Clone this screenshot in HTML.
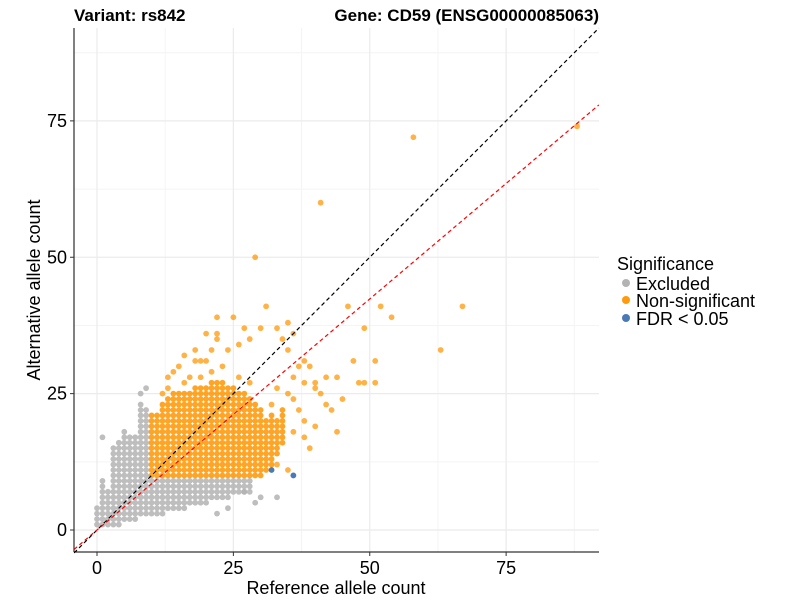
<!DOCTYPE html>
<html><head><meta charset="utf-8"><style>
body{margin:0;background:#fff;font-family:"Liberation Sans",Arial,sans-serif}
svg text{font-family:"Liberation Sans",Arial,sans-serif}
</style></head><body>
<svg id="chart" width="800" height="600" xmlns="http://www.w3.org/2000/svg">
<g id="grid"></g>
<g id="lines"></g>
<g id="pts"></g>
<g id="axes"></g>
<text x="74" y="21" font-size="17" font-weight="bold">Variant: rs842</text>
<text x="599" y="21" font-size="17" font-weight="bold" text-anchor="end">Gene: CD59 (ENSG00000085063)</text>
<text x="336" y="594" font-size="18" text-anchor="middle">Reference allele count</text>
<text transform="translate(40,290) rotate(-90)" font-size="18" text-anchor="middle">Alternative allele count</text>
<g>
<text x="617" y="270" font-size="18">Significance</text>
<circle cx="626" cy="283" r="4" fill="#b3b3b3"/>
<text x="636" y="290" font-size="18">Excluded</text>
<circle cx="626" cy="300" r="4" fill="#ff9a0a"/>
<text x="636" y="307" font-size="18">Non-significant</text>
<circle cx="626" cy="318" r="4" fill="#4a7ab5"/>
<text x="636" y="325" font-size="18">FDR &lt; 0.05</text>
</g>
</svg>
<script>
const ticks=[0,25,50,75];
const tickLabels=["0","25","50","75"];
const minorTicks=[12.5,37.5,62.5,87.5];
// orange dense columns: x, ymin, ymax
const orangeColX=[10,11,12,13,14,15,16,17,18,19,20,21,22,23,24,25,26,27,28,29,30,31,32,33,34];
const orangeColMin=[10,10,10,10,10,10,10,10,10,10,10,10,10,10,10,10,10,10,10,10,10,11,12,14,16];
const orangeColMax=[21,21,23,24,25,25,25,25,26,26,26,27,27,27,26,26,25,25,24,23,22,20,21,20,22];
const orangeX=[13,14,15,16,17,18,18,19,20,20,21,22,22,22,25,27,26,28,29,31,30,24,33,35,36,34,35,37,38,39,36,38,40,41,42,40,42,44,46,47,49,52,54,51,51,49,48,63,67,58,41,88,32,33,35,36,37,38,36,38,39,40,35,33,43,45,44,12,16,19,21,23,26,28,13];
const orangeY=[28,29,30,32,28,33,31,31,31,36,33,36,39,35,39,37,34,35,50,41,37,33,37,38,36,35,33,30,31,30,28,27,26,25,23,27,28,28,41,31,37,41,39,31,27,27,27,33,41,72,60,74,23,26,25,24,22,20,18,17,15,19,11,12,22,24,18,25,27,28,29,30,28,27,26];
const greyColX=[0,1,2,3,4,5,6,7,8,9,10,11,12,13,14,15,16,17,18,19,20,21,22,23,24,25,26,27,28];
const greyColMin=[1,1,1,1,1,2,2,2,3,3,3,3,3,4,4,4,4,5,5,5,5,6,6,6,6,7,7,7,7];
const greyColMax=[4,9,7,15,16,18,17,17,23,22,9,9,9,9,9,9,9,9,9,9,9,9,9,9,9,9,9,9,9];
const greyX=[1,8,9,29,33,24,30,27,22];
const greyY=[17,25,26,5,6,4,6,7,3];
const blueX=[32,36];
const blueY=[11,10];
const X0=97,Y0=530,K=5.455;
const sx=v=>X0+v*K, sy=v=>Y0-v*K;
const NS="http://www.w3.org/2000/svg";
function mk(tag,attrs,parent){const e=document.createElementNS(NS,tag);for(const k in attrs)e.setAttribute(k,attrs[k]);parent.appendChild(e);return e;}
const grid=document.getElementById('grid');
minorTicks.forEach(t=>{
 let a=mk('line',{x1:sx(t),x2:sx(t),y1:28,y2:552,stroke:'#f4f4f4','stroke-width':1},grid);
 
 let b=mk('line',{x1:74,x2:599,y1:sy(t),y2:sy(t),stroke:'#f4f4f4','stroke-width':1},grid);
 
});
ticks.forEach(t=>{
 let a=mk('line',{x1:sx(t),x2:sx(t),y1:28,y2:552,stroke:'#ebebeb','stroke-width':1.2},grid);
 
 let b=mk('line',{x1:74,x2:599,y1:sy(t),y2:sy(t),stroke:'#ebebeb','stroke-width':1.2},grid);
 
});
const pts=document.getElementById('pts');
function dot(x,y,fill,op,name){const c=mk('circle',{cx:sx(x),cy:sy(y),r:2.9,fill:fill,'fill-opacity':op},pts);
 
 }
greyColX.forEach((x,i)=>{for(let y=greyColMin[i];y<=greyColMax[i];y++)dot(x,y,'#b3b3b3',0.85,'point-excluded');});
greyX.forEach((x,i)=>dot(x,greyY[i],'#b3b3b3',0.85,'point-excluded'));
orangeColX.forEach((x,i)=>{for(let y=orangeColMin[i];y<=orangeColMax[i];y++)dot(x,y,'#ff9500',0.85,'point-nonsignificant');});
orangeX.forEach((x,i)=>dot(x,orangeY[i],'#ff9a0a',0.75,'point-nonsignificant'));
blueX.forEach((x,i)=>dot(x,blueY[i],'#4a7ab5',1,'point-fdr'));
const lines=document.getElementById('lines');
const slopeRed=0.847;
let l1=mk('line',{x1:sx(-4.2),y1:sy(-4.2),x2:sx(92),y2:sy(92),stroke:'#000','stroke-width':1.2,'stroke-dasharray':'4,3'},lines);

let l2=mk('line',{x1:sx(-4.2),y1:sy(-4.2*slopeRed),x2:sx(92),y2:sy(92*slopeRed),stroke:'#ff0000','stroke-width':1.2,'stroke-dasharray':'4,3'},lines);

document.getElementById('chart').appendChild(lines);
const axes=document.getElementById('axes');
let ax=mk('line',{x1:74,x2:74,y1:28,y2:552,stroke:'#000','stroke-width':1},axes);

let ay=mk('line',{x1:74,x2:599,y1:552,y2:552,stroke:'#000','stroke-width':1},axes);

ticks.forEach((t,i)=>{
 let a=mk('line',{x1:sx(t),x2:sx(t),y1:552,y2:556,stroke:'#333'},axes);
 
 let tx=mk('text',{x:sx(t),y:574,'font-size':18,'text-anchor':'middle',fill:'#000'},axes);tx.textContent=tickLabels[i];
 
 let b=mk('line',{x1:70,x2:74,y1:sy(t),y2:sy(t),stroke:'#333'},axes);
 
 let ty=mk('text',{x:67,y:sy(t)+6,'font-size':18,'text-anchor':'end',fill:'#000'},axes);ty.textContent=tickLabels[i];
 
});
</script>
</body></html>
